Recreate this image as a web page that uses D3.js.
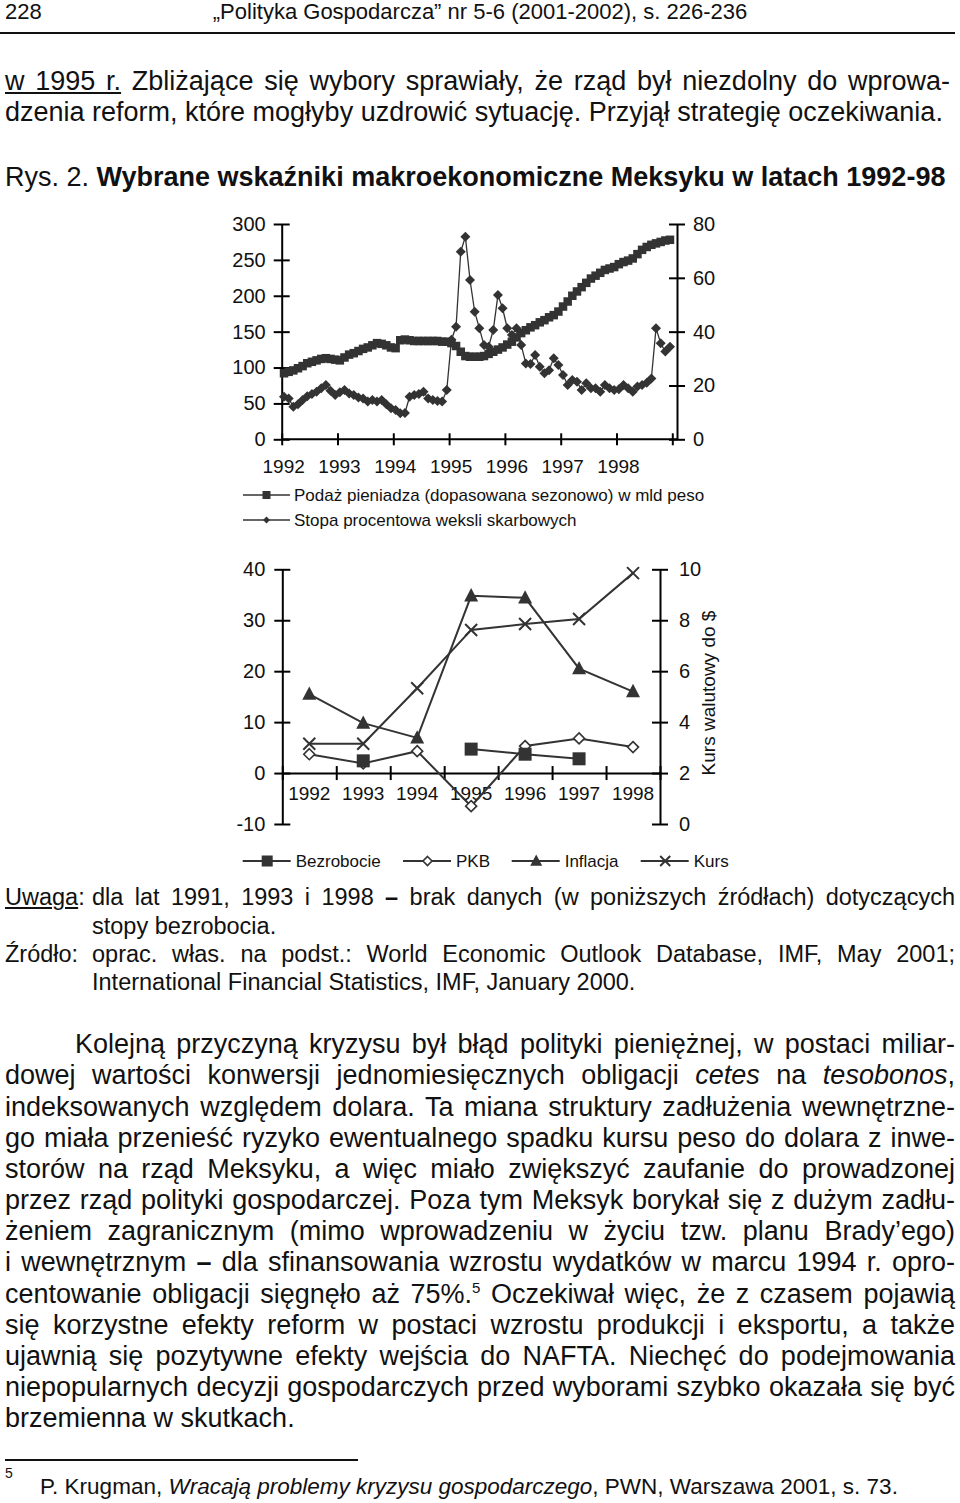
<!DOCTYPE html>
<html>
<head>
<meta charset="utf-8">
<script src="https://cdn.jsdelivr.net/npm/d3@7"></script>
<style>
body { margin: 0; background: #fff; }
#page { position: relative; width: 960px; height: 1503px; overflow: hidden;
        font-family: "Liberation Sans", Arial, sans-serif; color: #111; }
.ln { position: absolute; white-space: nowrap; }
.j { white-space: normal; text-align: justify; text-align-last: justify; }
.sup { position: relative; top: -10px; font-size: 15px; line-height: 0; }
svg text { font-family: "Liberation Sans", Arial, sans-serif; fill: #111; }
</style>
</head>
<body>
<div id="page"><svg id="chart" width="960" height="1503" style="position:absolute;left:0;top:0"></svg></div>
<script>
// chart 1: monthly data 1992-1998
var years = ['1992', '1993', '1994', '1995', '1996', '1997', '1998'];
var moneySupply = [
  92, 94, 96, 99, 102, 106, 108, 110, 112, 113, 112, 111,
  110, 114, 118, 120, 123, 126, 128, 131, 134, 133, 131, 128,
  127, 138, 139, 138, 137, 137, 137, 137, 137, 137, 136, 136,
  134, 130, 122, 116, 115, 115, 115, 116, 119, 122, 125, 128,
  132, 136, 142, 148, 152, 156, 159, 163, 166, 170, 173, 178,
  185, 192, 200, 206, 212, 218, 224, 228, 232, 236, 238, 240,
  244, 247, 249, 252, 258, 264, 268, 271, 273, 275, 277, 278];
var tbillRate = [
  15.8, 15.2, 12.1, 13.0, 14.6, 16.0, 16.8, 17.7, 19.0, 20.2, 18.0, 16.5,
  17.5, 18.3, 17.0, 16.5, 15.5, 15.2, 14.0, 14.6, 14.0, 14.6, 13.0, 11.5,
  10.9, 9.7, 9.8, 15.8, 16.5, 16.8, 17.7, 15.2, 14.6, 14.2, 14.0, 18.3,
  37.0, 41.8, 69.7, 75.3, 59.2, 47.4, 41.3, 35.0, 34.4, 40.6, 53.6, 48.7,
  41.3, 38.8, 41.3, 35.0, 28.2, 28.0, 31.3, 27.0, 24.5, 25.7, 30.1, 27.6,
  23.9, 20.2, 22.0, 21.4, 18.3, 20.8, 19.0, 19.0, 17.7, 20.2, 19.0, 18.3,
  18.6, 20.2, 19.0, 17.7, 19.6, 20.2, 21.0, 22.6, 41.3, 35.7, 32.6, 34.4];
var leftTicks1 = [0, 50, 100, 150, 200, 250, 300];
var rightTicks1 = [0, 20, 40, 60, 80];
var legend1 = ['Podaż pieniadza (dopasowana sezonowo) w mld peso', 'Stopa procentowa weksli skarbowych'];

// chart 2: yearly data
var unemployment = [null, 2.4, null, 4.7, 3.7, 2.8, null];
var gdp = [3.7, 1.9, 4.3, -6.5, 5.3, 6.8, 5.1];
var inflation = [15.5, 9.8, 6.9, 34.8, 34.4, 20.5, 16.0];
var exchangeRate = [3.15, 3.15, 5.33, 7.62, 7.85, 8.05, 9.85];
var leftTicks2 = [-10, 0, 10, 20, 30, 40];
var rightTicks2 = [0, 2, 4, 6, 8, 10];
var legend2 = ['Bezrobocie', 'PKB', 'Inflacja', 'Kurs'];

var ink = '#333';
var page = d3.select('#page');
var svg = d3.select('#chart');

// ---------- page text ----------
function line(x, yc, size, html, w) {
  var d = page.append('div').attr('class', w ? 'ln j' : 'ln')
    .style('left', x + 'px')
    .style('top', (yc - 0.62 * size) + 'px')
    .style('font-size', size + 'px')
    .style('line-height', Math.round(size * 1.2) + 'px')
    .html(html);
  if (w) d.style('width', w + 'px');
  return d;
}

line(5, 12, 22, '228').style('top', '0px').style('line-height', '23px');
line(0, 12, 22, '„Polityka Gospodarcza” nr 5-6 (2001-2002), s. 226-236')
  .style('top', '0px').style('line-height', '23px')
  .style('width', '960px').style('text-align', 'center');
page.append('div').style('position', 'absolute').style('left', '0px').style('top', '32px')
  .style('width', '955px').style('height', '2px').style('background', '#111');

line(5, 82, 27, '<u>w 1995 r.</u> Zbliżające się wybory sprawiały, że rząd był niezdolny do wprowa-', 945);
line(5, 113, 27, 'dzenia reform, które mogłyby uzdrowić sytuację. Przyjął strategię oczekiwania.');
line(5, 178, 27, 'Rys. 2. <b>Wybrane wskaźniki makroekonomiczne Meksyku w latach 1992-98</b>');

line(5, 898, 23.5, '<u>Uwaga</u>:');
line(92, 898, 23.5, 'dla lat 1991, 1993 i 1998 <b>–</b> brak danych (w poniższych źródłach) dotyczących', 863);
line(92, 927, 23.5, 'stopy bezrobocia.');
line(5, 955, 23.5, 'Źródło:');
line(92, 955, 23.5, 'oprac. włas. na podst.: World Economic Outlook Database, IMF, May 2001;', 863);
line(92, 983, 23.5, 'International Financial Statistics, IMF, January 2000.');

var body = [
  'Kolejną przyczyną kryzysu był błąd polityki pieniężnej, w postaci miliar-',
  'dowej wartości konwersji jednomiesięcznych obligacji <i>cetes</i> na <i>tesobonos</i>,',
  'indeksowanych względem dolara. Ta miana struktury zadłużenia wewnętrzne-',
  'go miała przenieść ryzyko ewentualnego spadku kursu peso do dolara z inwe-',
  'storów na rząd Meksyku, a więc miało zwiększyć zaufanie do prowadzonej',
  'przez rząd polityki gospodarczej. Poza tym Meksyk borykał się z dużym zadłu-',
  'żeniem zagranicznym (mimo wprowadzeniu w życiu tzw. planu Brady’ego)',
  'i wewnętrznym <b>–</b> dla sfinansowania wzrostu wydatków w marcu 1994 r. opro-',
  'centowanie obligacji sięgnęło aż 75%.<span class="sup">5</span> Oczekiwał więc, że z czasem pojawią',
  'się korzystne efekty reform w postaci wzrostu produkcji i eksportu, a także',
  'ujawnią się pozytywne efekty wejścia do NAFTA. Niechęć do podejmowania',
  'niepopularnych decyzji gospodarczych przed wyborami szybko okazała się być',
  'brzemienna w skutkach.'];
body.forEach(function (t, i) {
  var yc = 1045 + i * 31.17;
  if (i === 0) line(75, yc, 27, t, 880);
  else if (i === body.length - 1) line(5, yc, 27, t);
  else line(5, yc, 27, t, 950);
});

page.append('div').style('position', 'absolute').style('left', '5px').style('top', '1459px')
  .style('width', '353px').style('height', '2px').style('background', '#111');
line(5, 1474, 14, '5');
line(40, 1487, 22.5, 'P. Krugman, <i>Wracają problemy kryzysu gospodarczego</i>, PWN, Warszawa 2001, s. 73.');

// ---------- markers ----------
function markerPath(type, s) {
  var r = s / 2;
  if (type === 'square') return 'M' + (-r) + ',' + (-r) + 'h' + s + 'v' + s + 'h' + (-s) + 'Z';
  if (type === 'diamond') return 'M0,' + (-r) + 'L' + r + ',0L0,' + r + 'L' + (-r) + ',0Z';
  if (type === 'triangle') return 'M0,' + (-r * 1.1) + 'L' + r + ',' + (r * 0.8) + 'L' + (-r) + ',' + (r * 0.8) + 'Z';
  return 'M' + (-r) + ',' + (-r) + 'L' + r + ',' + r + 'M' + (-r) + ',' + r + 'L' + r + ',' + (-r);
}
function drawMarker(g, type, x, y, s, open) {
  var p = g.append('path').attr('d', markerPath(type, s))
    .attr('transform', 'translate(' + x + ',' + y + ')');
  if (type === 'cross') p.attr('fill', 'none').attr('stroke', ink).attr('stroke-width', 2);
  else if (open) p.attr('fill', '#fff').attr('stroke', ink).attr('stroke-width', 1.6);
  else p.attr('fill', ink);
}
function crossTicks(axisG, horizontal, s) {
  if (horizontal) axisG.selectAll('.tick line').attr('y1', -s).attr('y2', s);
  else axisG.selectAll('.tick line').attr('x1', -s).attr('x2', s);
}
function styleAxis(g, size) {
  g.select('.domain').attr('stroke', '#000').attr('stroke-width', 2);
  g.selectAll('.tick line').attr('stroke', '#000').attr('stroke-width', 2);
  g.selectAll('.tick text').attr('font-size', size).attr('fill', '#111')
    .style('font-family', '"Liberation Sans", Arial, sans-serif');
}
var plain = function (d) { return String(d); };

// ---------- chart 1 ----------
var x1 = d3.scaleLinear().domain([0, 84]).range([281.7, 672.3]);
var yL1 = d3.scaleLinear().domain([0, 300]).range([439.3, 224]);
var yR1 = d3.scaleLinear().domain([0, 80]).range([439.3, 224]);
var c1 = svg.append('g');

var axL1 = c1.append('g').attr('transform', 'translate(281.7,0)')
  .call(d3.axisLeft(yL1).tickValues(leftTicks1).tickFormat(plain).tickSize(8).tickPadding(8).tickSizeOuter(0));
crossTicks(axL1, false, 8); styleAxis(axL1, 20);
var axR1 = c1.append('g').attr('transform', 'translate(677,0)')
  .call(d3.axisRight(yR1).tickValues(rightTicks1).tickFormat(plain).tickSize(8).tickPadding(8).tickSizeOuter(0));
crossTicks(axR1, false, 8); styleAxis(axR1, 20);
var axX1 = c1.append('g').attr('transform', 'translate(0,439.3)')
  .call(d3.axisBottom(x1).tickValues(d3.range(0, 85, 12)).tickFormat('').tickSize(6).tickSizeOuter(0));
crossTicks(axX1, true, 6); styleAxis(axX1, 19);
axX1.select('.domain').attr('d', 'M281.7,0H677');
c1.selectAll('.yr1').data(years).enter().append('text')
  .attr('x', function (d, i) { return x1(i * 12) + 2; })
  .attr('y', 466.5).attr('dy', '0.35em').attr('text-anchor', 'middle')
  .attr('font-size', 19).text(function (d) { return d; });

var lineM = d3.line().x(function (d, i) { return x1(i + 0.5); }).y(function (d) { return yL1(d); });
var lineR = d3.line().x(function (d, i) { return x1(i + 0.5); }).y(function (d) { return yR1(d); });
c1.append('path').attr('d', lineM(moneySupply)).attr('fill', 'none').attr('stroke', ink).attr('stroke-width', 1.3);
moneySupply.forEach(function (v, i) { drawMarker(c1, 'square', x1(i + 0.5), yL1(v), 8.5); });
c1.append('path').attr('d', lineR(tbillRate)).attr('fill', 'none').attr('stroke', ink).attr('stroke-width', 1.3);
tbillRate.forEach(function (v, i) { drawMarker(c1, 'diamond', x1(i + 0.5), yR1(v), 10); });

legend1.forEach(function (t, i) {
  var y = 495 + i * 25;
  c1.append('line').attr('x1', 243).attr('x2', 290).attr('y1', y).attr('y2', y)
    .attr('stroke', ink).attr('stroke-width', 1.5);
  drawMarker(c1, i === 0 ? 'square' : 'diamond', 266.5, y, i === 0 ? 8 : 7);
  c1.append('text').attr('x', 294).attr('y', y).attr('dy', '0.35em')
    .attr('font-size', 17).text(t);
});

// ---------- chart 2 ----------
var x2 = d3.scaleBand().domain(years).range([282.3, 660]);
var yL2 = d3.scaleLinear().domain([-10, 40]).range([824, 569.3]);
var yR2 = d3.scaleLinear().domain([0, 10]).range([824, 569.3]);
var c2 = svg.append('g');

var axL2 = c2.append('g').attr('transform', 'translate(282.3,0)')
  .call(d3.axisLeft(yL2).tickValues(leftTicks2).tickFormat(plain).tickSize(8).tickPadding(9).tickSizeOuter(0));
crossTicks(axL2, false, 8); styleAxis(axL2, 20);
var axR2 = c2.append('g').attr('transform', 'translate(660,0)')
  .call(d3.axisRight(yR2).tickValues(rightTicks2).tickFormat(plain).tickSize(8).tickPadding(11).tickSizeOuter(0));
crossTicks(axR2, false, 8); styleAxis(axR2, 20);

var xLin = d3.scaleLinear().domain([0, 7]).range(x2.range());
var axX2 = c2.append('g').attr('transform', 'translate(0,' + yL2(0) + ')')
  .call(d3.axisBottom(xLin).tickValues(d3.range(0, 8)).tickFormat('').tickSize(7).tickSizeOuter(0));
crossTicks(axX2, true, 7); styleAxis(axX2, 19);
c2.selectAll('.yr2').data(years).enter().append('text')
  .attr('x', function (d) { return x2(d) + x2.bandwidth() / 2; })
  .attr('y', 793).attr('dy', '0.35em').attr('text-anchor', 'middle')
  .attr('font-size', 19).text(function (d) { return d; });

c2.append('text').attr('transform', 'translate(708,693) rotate(-90)')
  .attr('text-anchor', 'middle').attr('dy', '0.35em').attr('font-size', 19)
  .text('Kurs walutowy do $');

var cx = function (i) { return x2(years[i]) + x2.bandwidth() / 2; };
function series(vals, yS, type, s, open) {
  var lg = d3.line().defined(function (d) { return d != null; })
    .x(function (d, i) { return cx(i); }).y(function (d) { return yS(d); });
  c2.append('path').attr('d', lg(vals)).attr('fill', 'none').attr('stroke', ink).attr('stroke-width', 2);
  vals.forEach(function (v, i) { if (v != null) drawMarker(c2, type, cx(i), yS(v), s, open); });
}
series(inflation, yL2, 'triangle', 14);
series(exchangeRate, yR2, 'cross', 12);
series(gdp, yL2, 'diamond', 11, true);
series(unemployment, yL2, 'square', 13);

var leg2 = [
  { x: 242.7, type: 'square', s: 11 },
  { x: 403, type: 'diamond', s: 9, open: true },
  { x: 511.7, type: 'triangle', s: 12 },
  { x: 640.7, type: 'cross', s: 10 }];
leg2.forEach(function (d, i) {
  var y = 861;
  c2.append('line').attr('x1', d.x).attr('x2', d.x + 48).attr('y1', y).attr('y2', y)
    .attr('stroke', ink).attr('stroke-width', 2);
  drawMarker(c2, d.type, d.x + 24.5, y, d.s, d.open);
  c2.append('text').attr('x', d.x + 53).attr('y', y).attr('dy', '0.35em')
    .attr('font-size', 17).text(legend2[i]);
});
</script>
</body>
</html>
